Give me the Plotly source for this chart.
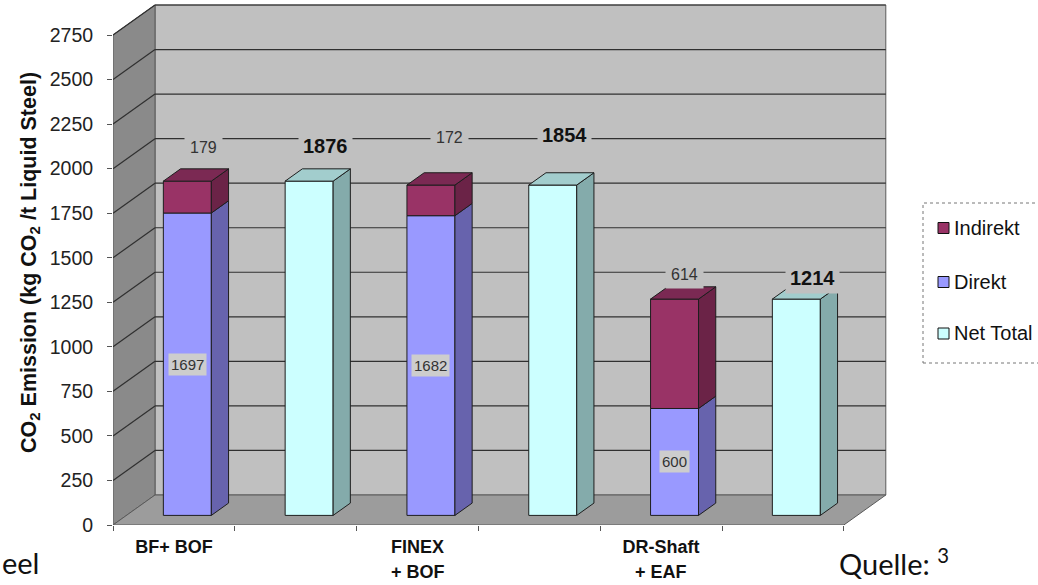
import plotly.graph_objects as go

# ---- data ---------------------------------------------------------------
categories = ["BF+ BOF", "FINEX<br>+ BOF", "DR-Shaft<br>+ EAF"]
direkt = [1697, 1682, 600]
indirekt = [179, 172, 614]
net_total = [1876, 1854, 1214]
y_ticks = list(range(0, 2751, 250))
legend_names = ["Indirekt", "Direkt", "Net Total"]

# ---- page / projection geometry -----------------------------------------
W, H = 1038, 585
ML, MR, MT, MB = 113, 0, 0, 60
PLOT_W = W - ML - MR
PLOT_H = H - MT - MB
PX_PER_SLOT = 121.8              # horizontal pixels per category slot
PX_PER_UNIT = 490 / 2750         # vertical pixels per kg CO2
X_RANGE = [0, PLOT_W / PX_PER_SLOT]
Y_RANGE = [0, PLOT_H / PX_PER_UNIT]

N_SLOTS = 2 * len(categories)
DX = 42 / PX_PER_SLOT            # depth of the box, in axis units
DY = 30 / PX_PER_UNIT
F_FRONT, F_BACK = 0.32, 0.73     # bar front / back planes as fraction of depth
BAR_W = 0.394
SX = (F_BACK - F_FRONT) * DX
SY = (F_BACK - F_FRONT) * DY
BASE0 = F_FRONT * DY
Y_TOP = y_ticks[-1]

FONT = "Liberation Sans, Arial, sans-serif"
SLIDE_FONT = "Lato, Open Sans, sans-serif"

# front, side, top colours
COLORS = {
    "Indirekt": ("#993366", "#6b2347", "#7b2953"),
    "Direkt": ("#9999ff", "#6763ad", "#7c7ad4"),
    "Net Total": ("#ccffff", "#84abab", "#a2cdcd"),
}
EDGE = "#1e1e1e"


def front_center(slot):
    return slot + 0.5 + F_FRONT * DX


# ---- bar segments ---------------------------------------------------------
segments = {name: [] for name in legend_names}   # (x_center, bottom, top, is_top)
for i in range(len(categories)):
    xs = front_center(2 * i)
    segments["Direkt"].append((xs, BASE0, BASE0 + direkt[i], False))
    segments["Indirekt"].append((xs, BASE0 + direkt[i], BASE0 + direkt[i] + indirekt[i], True))
    xn = front_center(2 * i + 1)
    segments["Net Total"].append((xn, BASE0, BASE0 + net_total[i], True))

fig = go.Figure()

# front faces
for name in ["Direkt", "Indirekt", "Net Total"]:
    segs = segments[name]
    fig.add_trace(go.Bar(
        x=[s[0] for s in segs],
        y=[s[2] - s[1] for s in segs],
        base=[s[1] for s in segs],
        width=BAR_W,
        name=name,
        marker=dict(color=COLORS[name][0], line=dict(color=EDGE, width=1)),
        showlegend=False,
        hovertemplate=name + ": %{y}<extra></extra>",
    ))


def poly_trace(polys, color):
    xs, ys = [], []
    for p in polys:
        xs += [pt[0] for pt in p] + [p[0][0], None]
        ys += [pt[1] for pt in p] + [p[0][1], None]
    return go.Scatter(x=xs, y=ys, mode="lines", fill="toself", fillcolor=color,
                      line=dict(color=EDGE, width=1), hoverinfo="skip",
                      showlegend=False)


# side and top faces
for name in ["Direkt", "Indirekt", "Net Total"]:
    sides, tops = [], []
    for xc, b, t, is_top in segments[name]:
        xl, xr = xc - BAR_W / 2, xc + BAR_W / 2
        sides.append([(xr, b), (xr + SX, b + SY), (xr + SX, t + SY), (xr, t)])
        if is_top:
            tops.append([(xl, t), (xr, t), (xr + SX, t + SY), (xl + SX, t + SY)])
    fig.add_trace(poly_trace(sides, COLORS[name][1]))
    if tops:
        fig.add_trace(poly_trace(tops, COLORS[name][2]))

# ---- walls, floor and gridlines -----------------------------------------
def path(points):
    return "M " + " L ".join(f"{x},{y}" for x, y in points) + " Z"


shapes = []
back_wall = [(DX, DY), (N_SLOTS + DX, DY), (N_SLOTS + DX, Y_TOP + DY), (DX, Y_TOP + DY)]
left_wall = [(0, 0), (0, Y_TOP), (DX, Y_TOP + DY), (DX, DY)]
floor = [(0, 0), (N_SLOTS, 0), (N_SLOTS + DX, DY), (DX, DY)]
for pts, fill in [(back_wall, "#c0c0c0"), (left_wall, "#8a8a8a"), (floor, "#9c9c9c")]:
    shapes.append(dict(type="path", xref="x", yref="y", path=path(pts),
                       fillcolor=fill, line=dict(color="#5a5a5a", width=1),
                       layer="below"))
for v in y_ticks[1:]:
    shapes.append(dict(type="line", xref="x", yref="y", x0=0, y0=v, x1=DX, y1=v + DY,
                       line=dict(color="#303030", width=1.2), layer="below"))
    shapes.append(dict(type="line", xref="x", yref="y", x0=DX, y0=v + DY,
                       x1=N_SLOTS + DX, y1=v + DY,
                       line=dict(color="#303030", width=1.2), layer="below"))


# ---- legend (drawn by hand) ----------------------------------------------
def paper(px, py):
    return (px - ML) / PLOT_W, (H - MB - py) / PLOT_H


lx0, ly0 = paper(923, 363)
lx1, ly1 = paper(1046, 203)
shapes.append(dict(type="rect", xref="paper", yref="paper", x0=lx0, y0=ly0, x1=lx1, y1=ly1,
                   fillcolor="white", line=dict(color="#777", width=1, dash="dot"),
                   layer="below"))
annotations = []
for name, cy in zip(legend_names, [228, 282, 333.5]):
    sx0, sy0 = paper(938, cy + 5.5)
    sx1, sy1 = paper(949, cy - 5.5)
    shapes.append(dict(type="rect", xref="paper", yref="paper", x0=sx0, y0=sy0, x1=sx1, y1=sy1,
                       fillcolor=COLORS[name][0], line=dict(color="#111", width=1)))
    tx, ty = paper(952, cy)
    annotations.append(dict(xref="paper", yref="paper", x=tx, y=ty, text=name,
                            xanchor="left", yanchor="middle", showarrow=False,
                            font=dict(family=FONT, size=20, color="#111")))

# ---- data labels -----------------------------------------------------------
label_shift = [((16, 34), (16, 35)), ((19, 48), (12, 50)), ((10, 25), (16, 21))]
for i in range(len(categories)):
    xs, xn = front_center(2 * i), front_center(2 * i + 1)
    top_s = BASE0 + direkt[i] + indirekt[i]
    top_n = BASE0 + net_total[i]
    (sxs, sys), (sxn, syn) = label_shift[i]
    annotations.append(dict(x=xs, y=top_s, xshift=sxs, yshift=sys, text=str(indirekt[i]),
                            showarrow=False, bgcolor="#c0c0c0", borderpad=5,
                            font=dict(family=FONT, size=16, color="#333")))
    annotations.append(dict(x=xn, y=top_n, xshift=sxn, yshift=syn, text=f"<b>{net_total[i]}</b>",
                            showarrow=False, bgcolor="#c0c0c0", borderpad=4,
                            font=dict(family=FONT, size=20, color="#111")))
    annotations.append(dict(x=xs, y=BASE0 + direkt[i] / 2, text=str(direkt[i]),
                            showarrow=False, bgcolor="#cdcdcd", borderpad=2,
                            font=dict(family=FONT, size=15, color="#333")))

# ---- category names: first line as axis tick label, second line below ---------
cat_pos = [2 * i + 0.5 for i in range(len(categories))]
first_lines = [c.split("<br>")[0] for c in categories]
cat_font = dict(family=FONT, size=18, color="#111", weight="bold")
_, line2_y = paper(0, 572)
for p, c in zip(cat_pos, categories):
    if "<br>" in c:
        annotations.append(dict(x=p, xref="x", y=line2_y, yref="paper",
                                text=c.split("<br>")[1], showarrow=False, borderpad=0,
                                xanchor="center", yanchor="middle", font=cat_font))

# ---- slide text around the chart --------------------------------------------
ex, ey = paper(0, 562)
annotations.append(dict(xref="paper", yref="paper", x=ex, y=ey, text="eel",
                        xanchor="left", yanchor="middle", showarrow=False,
                        font=dict(family=SLIDE_FONT, size=29, color="#111")))
qx, qy = paper(837, 562)
annotations.append(dict(xref="paper", yref="paper", x=qx, y=qy, text="Quelle: <sup>3</sup>",
                        xanchor="left", yanchor="middle", showarrow=False,
                        font=dict(family=SLIDE_FONT, size=29, color="#111")))

fig.update_layout(
    width=W, height=H,
    margin=dict(l=ML, r=MR, t=MT, b=MB, autoexpand=False),
    paper_bgcolor="white", plot_bgcolor="white",
    barmode="overlay", showlegend=False,
    shapes=shapes, annotations=annotations,
    xaxis=dict(
        range=X_RANGE, fixedrange=True,
        tickvals=cat_pos, ticktext=first_lines, ticks="",
        tickfont=cat_font, ticklabelstandoff=9,
        showgrid=False, zeroline=False, showline=False,
        minor=dict(tickvals=list(range(N_SLOTS + 1)), ticks="outside", ticklen=5,
                   tickcolor="#555", tickwidth=1, showgrid=False),
    ),
    yaxis=dict(
        range=Y_RANGE, fixedrange=True,
        tickvals=y_ticks, ticks="outside", ticklen=5, tickcolor="#555", tickwidth=1,
        tickfont=dict(family=FONT, size=19.5, color="#222"),
        ticklabelstandoff=10,
        showgrid=False, zeroline=False, showline=False,
        title=dict(text="<b>CO<sub>2</sub> Emission (kg CO<sub>2</sub> /t Liquid Steel)</b>",
                   font=dict(family=FONT, size=21.5, color="#111"), standoff=7),
    ),
)

fig.write_html("out.html")
